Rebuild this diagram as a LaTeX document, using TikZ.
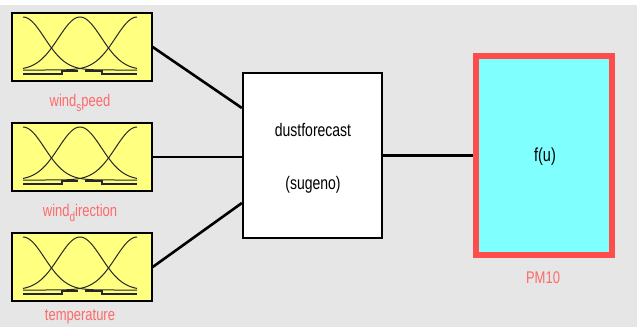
\documentclass[tikz,border=0pt]{standalone}
\usepackage{fontspec}
\usepackage{graphicx}
\setmainfont{Liberation Sans}
\definecolor{panel}{HTML}{E6E6E6}
\definecolor{mfyellow}{HTML}{FFFF80}
\definecolor{outcyan}{HTML}{80FFFF}
\definecolor{outred}{HTML}{FF4D4D}
\definecolor{labred}{HTML}{FF6A6A}
% text is set a little taller than wide
\newcommand{\tallbox}[1]{\scalebox{1}[1.3]{#1}}
\newcommand{\lowsub}[1]{\raisebox{-0.55ex}{\fontsize{10}{10}\selectfont #1}}
\tikzset{
  inbox/.style={draw=black, line width=1.4pt, fill=mfyellow,
    minimum width=140pt, minimum height=68pt, inner sep=0pt},
  fisbox/.style={draw=black, line width=2.2pt, fill=white,
    minimum width=139pt, minimum height=165pt, inner sep=0pt, align=center},
  outbox/.style={draw=outred, line width=6pt, fill=outcyan,
    minimum width=136pt, minimum height=199pt, inner sep=0pt},
  varlabel/.style={text=labred, font=\fontsize{13}{15}\selectfont, inner sep=0pt},
  boxtext/.style={font=\fontsize{14}{16}\selectfont, inner sep=0pt},
  wire/.style={draw=black, line width=2.6pt},
  mfcurve/.style={draw=black!85, line width=1pt},
  mfbase/.style={draw=black!85, line width=1.3pt},
  pics/mfset/.style={code={
    \draw[mfcurve] plot[domain=-59:55, samples=60, smooth]
      (\x, {23-53*exp(-((\x+59)^2)/924.5)});
    \draw[mfcurve] plot[domain=-59:55, samples=60, smooth]
      (\x, {23-53*exp(-((\x+2)^2)/924.5)});
    \draw[mfcurve] plot[domain=-59:55, samples=60, smooth]
      (\x, {23-53*exp(-((\x-55)^2)/924.5)});
    \draw[mfbase] (-59,27) -- (-20,27) -- (-20,24) -- (-4,24);
    \draw[mfbase] (3,24) -- (20,24) -- (20,27) -- (55,27);
  }}
}
\begin{document}
\begin{tikzpicture}[x=1pt, y=-1pt]
  \useasboundingbox (0,0) rectangle (637,327);
  \clip (0,0) rectangle (637,327);
  \fill[panel] (0,5) rectangle (637,327);

  % input variables
  \node[inbox] (speed) at (82,47) {};
  \node[inbox] (direction) at (82,157) {};
  \node[inbox] (temp) at (82,267) {};
  \pic at (82,47) {mfset};
  \pic at (82,157) {mfset};
  \pic at (82,267) {mfset};
  \node[varlabel] (speedlab) at (80,103) {\tallbox{wind\lowsub{s}peed}};
  \node[varlabel] (directionlab) at (80,213) {\tallbox{wind\lowsub{d}irection}};
  \node[varlabel] (templab) at (80,317) {\tallbox{temperature}};

  % inference system
  \node[fisbox] (fis) at (312.5,155.5) {};
  \node[boxtext] (fisname) at (313,130) {\tallbox{dustforecast}};
  \node[boxtext] (fistype) at (313,185) {\tallbox{(sugeno)}};

  % output variable
  \node[outbox] (out) at (544,155.5) {};
  \node[boxtext, font=\fontsize{14.5}{16}\selectfont] (fu) at (545,157) {\tallbox{f(u)}};
  \node[varlabel] (outlab) at (543,278) {\tallbox{PM10}};

  % connections
  \draw[wire] (speed.east) -- ([yshift=47.5pt]fis.west);
  \draw[wire] (direction.east) -- (direction.east -| fis.west);
  \draw[wire] (temp.east) -- ([yshift=-47.5pt]fis.west);
  \draw[wire] (fis.east) -- (out.west);
\end{tikzpicture}
\end{document}
